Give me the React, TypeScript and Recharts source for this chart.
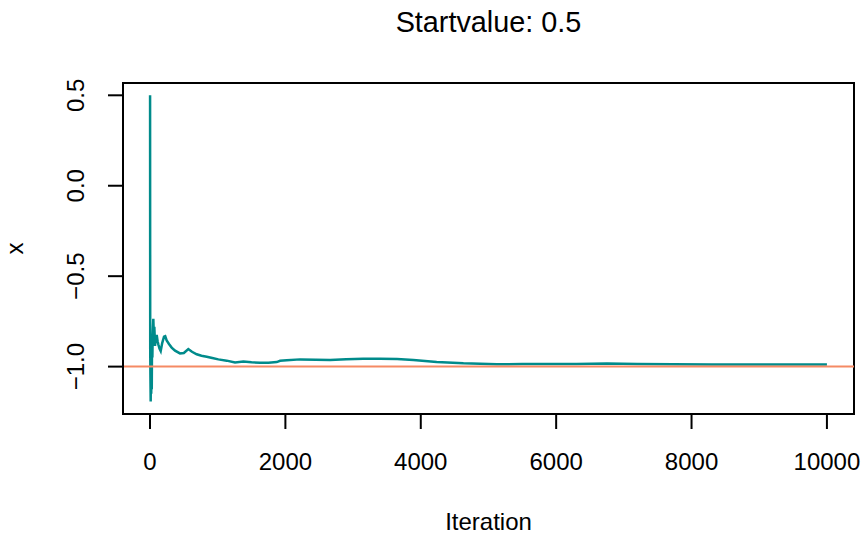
import { LineChart, Line, XAxis, YAxis, ReferenceLine, ReferenceArea } from 'recharts'

// iteration numbers and running estimate
const iterations = [
  1, 3, 6, 10, 14, 18, 22, 26, 30, 35, 40, 49, 56, 64, 74, 86, 99, 112, 123, 140, 158, 180, 207, 225,
  246, 280, 320, 370, 443, 500, 566, 620, 690, 760, 838, 920, 1010, 1133, 1256, 1379, 1500, 1626,
  1750, 1872, 1921, 2020, 2217, 2450, 2660, 2900, 3150, 3399, 3650, 3890, 4235, 4630, 5123, 5500,
  5863, 6300, 6750, 7200, 7730, 8300, 9000, 9500, 10000,
]
const estimates = [
  0.5, -0.9, -1.05, -1.193, -1.0, -1.15, -0.95, -1.125, -0.85, -0.95, -0.82, -0.735, -0.82, -0.78,
  -0.886, -0.84, -0.825, -0.86, -0.877, -0.9, -0.914, -0.87, -0.835, -0.832, -0.855, -0.875, -0.895,
  -0.912, -0.927, -0.925, -0.903, -0.918, -0.932, -0.94, -0.945, -0.952, -0.96, -0.967, -0.977,
  -0.972, -0.976, -0.979, -0.978, -0.975, -0.968, -0.965, -0.96, -0.962, -0.963, -0.959, -0.956,
  -0.957, -0.958, -0.963, -0.974, -0.982, -0.987, -0.986, -0.985, -0.986, -0.983, -0.986, -0.987,
  -0.989, -0.989, -0.988, -0.989,
]
const xTicks = [0, 2000, 4000, 6000, 8000, 10000]
const yTicks = [-1, -0.5, 0, 0.5]
const trueValue = -1
const title = 'Startvalue: 0.5'

const data = iterations.map((it, i) => ({ iter: it, x: estimates[i] }))

const FONT = '"Liberation Sans", Arial, Helvetica, sans-serif'
const X_DOMAIN: [number, number] = [-399, 10400]
const Y_DOMAIN: [number, number] = [-1.262, 0.568]

function fmtY(v: number) {
  const s = Math.abs(v).toFixed(1)
  return v < 0 ? '\u2212' + s : s
}

function YTick(props: any) {
  const { x, y, payload } = props
  return (
    <text
      x={x}
      y={y}
      transform={`rotate(-90, ${x}, ${y})`}
      textAnchor="middle"
      fontSize={24}
      fontFamily={FONT}
      fill="#000"
    >
      {fmtY(payload.value)}
    </text>
  )
}

export default function App() {
  return (
    <div style={{ position: 'absolute', left: 0, top: 0, width: 864, height: 536, background: '#fff' }}>
      <LineChart width={864} height={536} data={data} margin={{ top: 83, right: 10, bottom: 0, left: 0 }}>
        <XAxis
          dataKey="iter"
          type="number"
          domain={X_DOMAIN}
          ticks={xTicks}
          interval={0}
          height={122}
          tickSize={15}
          tickMargin={24}
          axisLine={{ stroke: '#000', strokeWidth: 2 }}
          tickLine={{ stroke: '#000', strokeWidth: 2 }}
          tick={{ fontSize: 24, fill: '#000', fontFamily: FONT }}
        />
        <YAxis
          type="number"
          domain={Y_DOMAIN}
          ticks={yTicks}
          interval={0}
          width={123}
          tickSize={15}
          tickMargin={24}
          allowDataOverflow
          axisLine={{ stroke: '#000', strokeWidth: 2 }}
          tickLine={{ stroke: '#000', strokeWidth: 2 }}
          tick={<YTick />}
        />
        <ReferenceArea
          x1={X_DOMAIN[0]}
          x2={X_DOMAIN[1]}
          y1={Y_DOMAIN[0]}
          y2={Y_DOMAIN[1]}
          fill="none"
          fillOpacity={0}
          stroke="#000"
          strokeWidth={2}
          ifOverflow="visible"
        />
        <Line
          dataKey="x"
          type="linear"
          stroke="#008B8B"
          strokeWidth={2.5}
          dot={false}
          isAnimationActive={false}
        />
        <ReferenceLine y={trueValue} stroke="#F58A64" strokeWidth={2} />
      </LineChart>
      <svg
        width={864}
        height={536}
        style={{ position: 'absolute', left: 0, top: 0, pointerEvents: 'none' }}
        fontFamily={FONT}
      >
        <text x={488.5} y={31.5} textAnchor="middle" fontSize={28.8} fill="#000">
          {title}
        </text>
        <text x={488.5} y={529.5} textAnchor="middle" fontSize={24} fill="#000">
          Iteration
        </text>
        <text x={23.3} y={248.5} textAnchor="middle" fontSize={24} fill="#000" transform="rotate(-90, 23.3, 248.5)">
          x
        </text>
      </svg>
    </div>
  )
}
